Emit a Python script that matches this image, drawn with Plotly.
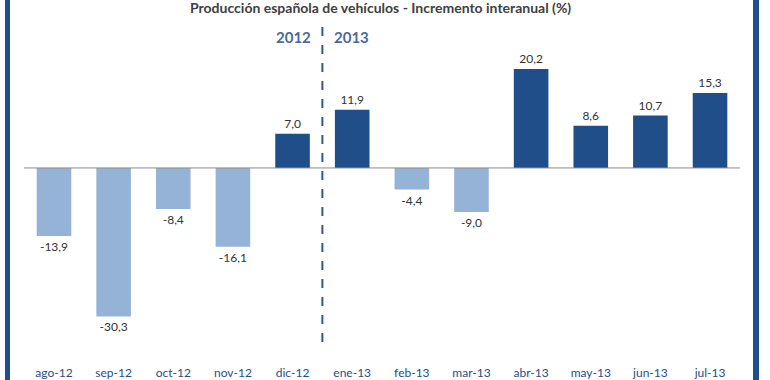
import plotly.graph_objects as go

months = ["ago-12", "sep-12", "oct-12", "nov-12", "dic-12", "ene-13",
          "feb-13", "mar-13", "abr-13", "may-13", "jun-13", "jul-13"]
values = [-13.9, -30.3, -8.4, -16.1, 7.0, 11.9, -4.4, -9.0, 20.2, 8.6, 10.7, 15.3]
title_text = "Producción española de vehículos - Incremento interanual (%)"
year_labels = ["2012", "2013"]

POS = "#1f4e89"
NEG = "#95b3d7"
colors = [POS if v >= 0 else NEG for v in values]

W, H = 770, 380
ml, mr, mt, mb = 24, 8, 20, 20
pw = W - ml - mr
ph = H - mt - mb
unit = 59.64
x0r = -0.503
x1r = x0r + pw / unit

def px_x(p):
    return (p - ml) / pw

def px_y(p):
    return (H - mb - p) / ph

fig = go.Figure()
fig.add_trace(go.Bar(
    x=list(range(len(months))), y=values,
    marker=dict(color=colors, line=dict(width=0)),
    width=0.58,
    texttemplate="%{y:.1f}", textposition="outside",
    textfont=dict(family="Lato, sans-serif", size=12, color="#333333"),
    cliponaxis=False,
))

fig.update_layout(
    width=W, height=H,
    margin=dict(l=ml, r=mr, t=mt, b=mb, pad=0),
    paper_bgcolor="white", plot_bgcolor="white",
    separators=",.",
    showlegend=False,
    bargap=0.4,
    xaxis=dict(
        range=[x0r, x1r], automargin=False,
        tickmode="array", tickvals=list(range(len(months))), ticktext=months,
        tickfont=dict(family="Lato, sans-serif", size=12, color="#1f4e89"),
        ticklabelstandoff=4,
        showgrid=False, zeroline=False, showline=False, ticks="",
    ),
    yaxis=dict(
        range=[-39.2, 30.2], visible=False, automargin=False,
        zeroline=False, showgrid=False,
    ),
    shapes=[
        dict(type="line", xref="x", yref="y", x0=x0r, x1=11.502, y0=0, y1=0,
             line=dict(color="#8c8c8c", width=1)),
        dict(type="line", xref="x", yref="paper", x0=4.5, x1=4.5, y0=px_y(342), y1=px_y(20),
             line=dict(color="#2e5a8f", width=2, dash="dash")),
        dict(type="rect", xref="paper", yref="paper", x0=px_x(5), x1=px_x(10),
             y0=px_y(385), y1=px_y(-5), line=dict(width=0), fillcolor="#1f4e89"),
        dict(type="rect", xref="paper", yref="paper", x0=px_x(753), x1=px_x(759),
             y0=px_y(385), y1=px_y(-5), line=dict(width=0), fillcolor="#1f4e89"),
    ],
    annotations=[
        dict(text=f"<b>{title_text}</b>", xref="paper", yref="paper",
             x=px_x(380), y=px_y(8), xanchor="center", yanchor="middle",
             showarrow=False, font=dict(family="Lato, sans-serif", size=14, color="#404040")),
        dict(text=f"<b>{year_labels[0]}</b>", xref="x", yref="paper", x=4.5, xshift=-29,
             y=px_y(37), yanchor="middle", showarrow=False,
             font=dict(family="Lato, sans-serif", size=15, color="#4a6a9a")),
        dict(text=f"<b>{year_labels[1]}</b>", xref="x", yref="paper", x=4.5, xshift=29,
             y=px_y(37), yanchor="middle", showarrow=False,
             font=dict(family="Lato, sans-serif", size=15, color="#4a6a9a")),
    ],
)

fig.write_html("out.html",
               config={"displayModeBar": False, "responsive": False},
               post_script="document.body.style.margin='0';")
